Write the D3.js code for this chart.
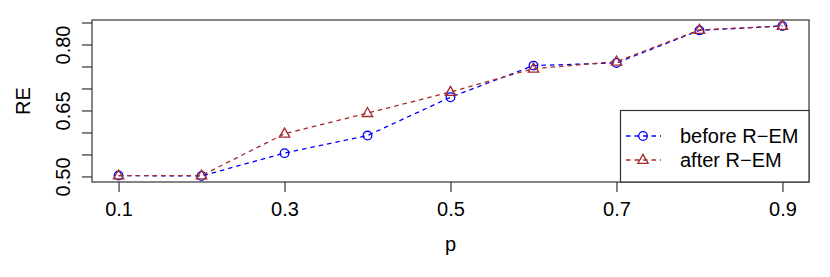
<!DOCTYPE html>
<html>
<head>
<meta charset="utf-8">
<script src="https://cdn.jsdelivr.net/npm/d3@7"></script>
<style>
  body { margin: 0; background: #fff; }
  text { font-family: "Liberation Sans", Arial, sans-serif; fill: #000; }
</style>
</head>
<body>
<svg id="main_svg" width="830" height="277"></svg>
<script>
// values
var pValues = [0.1, 0.2, 0.3, 0.4, 0.5, 0.6, 0.7, 0.8, 0.9];
var beforeREM = [0.502, 0.501, 0.553, 0.593, 0.680, 0.752, 0.758, 0.832, 0.842];
var afterREM = [0.502, 0.502, 0.597, 0.644, 0.692, 0.745, 0.761, 0.833, 0.842];
var xTicks = [0.1, 0.3, 0.5, 0.7, 0.9];
var yTicks = [0.50, 0.55, 0.60, 0.65, 0.70, 0.75, 0.80, 0.85];
var yTickLabels = [0.50, 0.65, 0.80];
var legendLabels = ["before R\u2212EM", "after R\u2212EM"];

var blue = "#0000ff";
var red = "#a52a2a";
var fontSize = 20;

var svg = d3.select("#main_svg");
var margin = {left: 92, right: 21, top: 20, bottom: 95};
var width = 830 - margin.left - margin.right;
var height = 277 - margin.top - margin.bottom;

// R style 4% padding
var xExt = d3.extent(pValues);
var xPad = (xExt[1] - xExt[0]) * 0.04;
var allY = beforeREM.concat(afterREM);
var yExt = d3.extent(allY);
var yPad = (yExt[1] - yExt[0]) * 0.04;

var x = d3.scaleLinear()
    .domain([xExt[0] - xPad, xExt[1] + xPad])
    .range([margin.left, margin.left + width]);
var y = d3.scaleLinear()
    .domain([yExt[0] - yPad, yExt[1] + yPad])
    .range([margin.top + height, margin.top]);

// x axis
var xAxis = d3.axisBottom(x)
    .tickValues(xTicks)
    .tickSize(10)
    .tickPadding(9.5)
    .tickFormat(d3.format(".1f"));
var gx = svg.append("g")
    .attr("transform", "translate(0," + (margin.top + height) + ")")
    .call(xAxis);
gx.select(".domain").remove();
gx.selectAll("line").attr("stroke", "#333").attr("stroke-width", 1.2);
gx.selectAll("text")
    .attr("font-size", fontSize)
    .attr("font-family", "Liberation Sans, Arial, sans-serif");

// y axis, only some ticks labelled
var yAxis = d3.axisLeft(y)
    .tickValues(yTicks)
    .tickSize(10)
    .tickFormat(function(d) {
        return yTickLabels.some(function(v) { return Math.abs(v - d) < 1e-9; }) ? d3.format(".2f")(d) : "";
    });
var gy = svg.append("g")
    .attr("transform", "translate(" + margin.left + ",0)")
    .call(yAxis);
gy.select(".domain").remove();
gy.selectAll("line").attr("stroke", "#333").attr("stroke-width", 1.2);
gy.selectAll("text")
    .attr("font-size", fontSize)
    .attr("font-family", "Liberation Sans, Arial, sans-serif")
    .attr("x", null)
    .attr("dy", null)
    .attr("text-anchor", "middle")
    .attr("transform", "translate(-22,0) rotate(-90)");

// box
svg.append("rect")
    .attr("x", margin.left)
    .attr("y", margin.top)
    .attr("width", width)
    .attr("height", height)
    .attr("fill", "none")
    .attr("stroke", "#333")
    .attr("stroke-width", 1.2);

// axis titles
svg.append("text")
    .attr("x", margin.left + width / 2)
    .attr("y", 251)
    .attr("text-anchor", "middle")
    .attr("font-size", fontSize)
    .text("p");
svg.append("text")
    .attr("transform", "translate(30," + (margin.top + height / 2) + ") rotate(-90)")
    .attr("text-anchor", "middle")
    .attr("font-size", fontSize)
    .text("RE");

// series
var series = [
    {name: legendLabels[0], values: beforeREM, color: blue, shape: "circle"},
    {name: legendLabels[1], values: afterREM, color: red, shape: "triangle"}
];

var line = d3.line()
    .x(function(d) { return x(d[0]); })
    .y(function(d) { return y(d[1]); });

function drawMarker(g, shape, color) {
    if (shape == "circle") {
        g.append("circle")
            .attr("r", 4.3)
            .attr("fill", "none")
            .attr("stroke", color)
            .attr("stroke-width", 1.3);
    } else {
        g.append("path")
            .attr("d", "M0,-5.6L5.2,3.4L-5.2,3.4Z")
            .attr("fill", "none")
            .attr("stroke", color)
            .attr("stroke-width", 1.3);
    }
}

series.forEach(function(s) {
    var pts = pValues.map(function(p, i) { return [p, s.values[i]]; });
    svg.append("path")
        .datum(pts)
        .attr("d", line)
        .attr("fill", "none")
        .attr("stroke", s.color)
        .attr("stroke-width", 1.3)
        .attr("stroke-dasharray", "4.5,4");
    svg.append("g")
        .selectAll("g")
        .data(pts)
        .enter()
        .append("g")
        .attr("transform", function(d) { return "translate(" + x(d[0]) + "," + y(d[1]) + ")"; })
        .each(function() { drawMarker(d3.select(this), s.shape, s.color); });
});

// legend
var legend = svg.append("g");
legend.append("rect")
    .attr("x", 620.5)
    .attr("y", 110.5)
    .attr("width", margin.left + width - 620.5)
    .attr("height", margin.top + height - 110.5)
    .attr("fill", "#fff")
    .attr("stroke", "#333")
    .attr("stroke-width", 1.2);

var items = legend.selectAll(".item")
    .data(series)
    .enter()
    .append("g")
    .attr("class", "item")
    .attr("transform", function(d, i) { return "translate(0," + (136 + i * 24) + ")"; });
items.append("line")
    .attr("x1", 626)
    .attr("x2", 661)
    .attr("stroke", function(d) { return d.color; })
    .attr("stroke-width", 1.3)
    .attr("stroke-dasharray", "4.5,4");
items.each(function(d) {
    var g = d3.select(this).append("g").attr("transform", "translate(643,0)");
    drawMarker(g, d.shape, d.color);
});
items.append("text")
    .attr("x", 680)
    .attr("dy", "0.35em")
    .attr("font-size", fontSize)
    .text(function(d) { return d.name; });
</script>
</body>
</html>
